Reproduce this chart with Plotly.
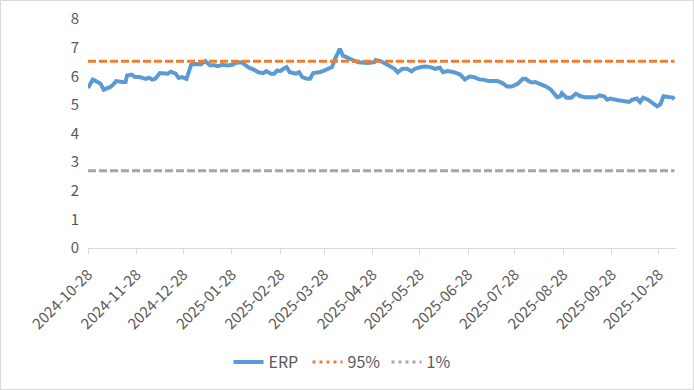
import plotly.graph_objects as go

# ---- data ----
erp_dates = [
    "2024-10-28", "2024-10-31", "2024-11-02", "2024-11-05", "2024-11-07", "2024-11-09",
    "2024-11-11", "2024-11-13", "2024-11-15", "2024-11-19", "2024-11-21", "2024-11-22",
    "2024-11-25", "2024-11-27", "2024-11-30", "2024-12-04", "2024-12-06", "2024-12-08",
    "2024-12-10", "2024-12-13", "2024-12-16", "2024-12-18", "2024-12-20", "2024-12-23",
    "2024-12-25", "2024-12-27", "2024-12-30", "2025-01-02", "2025-01-05", "2025-01-08",
    "2025-01-11", "2025-01-14", "2025-01-17", "2025-01-19", "2025-01-22", "2025-01-25",
    "2025-01-29", "2025-01-30", "2025-02-03", "2025-02-05", "2025-02-08", "2025-02-11",
    "2025-02-14", "2025-02-17", "2025-02-19", "2025-02-22", "2025-02-24", "2025-02-26",
    "2025-02-28", "2025-03-02", "2025-03-04", "2025-03-06", "2025-03-10", "2025-03-12",
    "2025-03-14", "2025-03-17", "2025-03-19", "2025-03-21", "2025-03-25", "2025-03-28",
    "2025-03-31", "2025-04-02", "2025-04-04", "2025-04-07", "2025-04-09", "2025-04-13",
    "2025-04-16", "2025-04-19", "2025-04-22", "2025-04-25", "2025-04-29", "2025-04-30",
    "2025-05-03", "2025-05-05", "2025-05-08", "2025-05-12", "2025-05-14", "2025-05-17",
    "2025-05-20", "2025-05-23", "2025-05-25", "2025-05-29", "2025-06-01", "2025-06-04",
    "2025-06-07", "2025-06-10", "2025-06-12", "2025-06-15", "2025-06-19", "2025-06-23",
    "2025-06-26", "2025-06-29", "2025-07-02", "2025-07-05", "2025-07-08", "2025-07-11",
    "2025-07-15", "2025-07-17", "2025-07-20", "2025-07-23", "2025-07-26", "2025-07-30",
    "2025-08-02", "2025-08-04", "2025-08-06", "2025-08-08", "2025-08-10", "2025-08-14",
    "2025-08-17", "2025-08-20", "2025-08-22", "2025-08-24", "2025-08-26", "2025-08-27",
    "2025-08-30", "2025-09-02", "2025-09-05", "2025-09-08", "2025-09-11", "2025-09-15",
    "2025-09-18", "2025-09-20", "2025-09-23", "2025-09-25", "2025-09-27", "2025-10-02",
    "2025-10-06", "2025-10-09", "2025-10-11", "2025-10-14", "2025-10-16", "2025-10-18",
    "2025-10-21", "2025-10-24", "2025-10-27", "2025-10-29", "2025-10-31", "2025-11-04",
    "2025-11-06", "2025-11-07",
]
erp_values = [
    5.59, 5.88, 5.83, 5.74, 5.53, 5.56,
    5.62, 5.70, 5.83, 5.80, 5.80, 6.03,
    6.06, 5.97, 5.97, 5.91, 5.95, 5.88,
    5.91, 6.11, 6.11, 6.09, 6.16, 6.09,
    5.94, 5.97, 5.91, 6.41, 6.43, 6.41,
    6.53, 6.38, 6.38, 6.35, 6.40, 6.38,
    6.41, 6.46, 6.49, 6.41, 6.30, 6.23,
    6.14, 6.11, 6.18, 6.09, 6.09, 6.20,
    6.18, 6.26, 6.32, 6.14, 6.09, 6.14,
    5.97, 5.91, 5.91, 6.11, 6.14, 6.20,
    6.26, 6.32, 6.61, 6.96, 6.72, 6.61,
    6.55, 6.49, 6.46, 6.46, 6.49, 6.57,
    6.53, 6.46, 6.38, 6.26, 6.14, 6.26,
    6.26, 6.17, 6.26, 6.32, 6.34, 6.32,
    6.26, 6.30, 6.14, 6.18, 6.14, 6.06,
    5.89, 5.99, 5.97, 5.89, 5.88, 5.83,
    5.83, 5.83, 5.76, 5.64, 5.64, 5.74,
    5.91, 5.91, 5.82, 5.78, 5.80, 5.71,
    5.64, 5.53, 5.41, 5.27, 5.30, 5.41,
    5.25, 5.25, 5.39, 5.30, 5.27, 5.25,
    5.27, 5.33, 5.30, 5.18, 5.22, 5.16,
    5.13, 5.10, 5.18, 5.22, 5.10, 5.25,
    5.18, 5.06, 4.95, 5.02, 5.30, 5.27,
    5.25, 5.20,
]
band_dates = ["2024-10-28", "2025-11-07"]
p95_values = [6.52, 6.52]
p01_values = [2.70, 2.70]

tick_dates = [
    "2024-10-28", "2024-11-28", "2024-12-28", "2025-01-28", "2025-02-28", "2025-03-28",
    "2025-04-28", "2025-05-28", "2025-06-28", "2025-07-28", "2025-08-28", "2025-09-28",
    "2025-10-28",
]
y_ticks = [0, 1, 2, 3, 4, 5, 6, 7, 8]

# ---- styling ----
BLUE = "#5B9BD5"
ORANGE = "#ED7D31"
GRAY = "#A5A5A5"
TEXT = "#595959"
FONT = "Noto Sans CJK SC, Noto Sans, sans-serif"

fig = go.Figure()
fig.add_trace(go.Scatter(x=erp_dates, y=erp_values, mode="lines", name="ERP",
                         line=dict(color=BLUE, width=4)))
fig.add_trace(go.Scatter(x=band_dates, y=p95_values, mode="lines", name="95%",
                         showlegend=False, line=dict(color=ORANGE, width=3, dash="8px,3px")))
fig.add_trace(go.Scatter(x=band_dates, y=p01_values, mode="lines", name="1%",
                         showlegend=False, line=dict(color=GRAY, width=3, dash="8px,3px")))
# legend entries (dotted, as in the reference legend)
fig.add_trace(go.Scatter(x=[None], y=[None], mode="lines", name="95%",
                         line=dict(color=ORANGE, width=3, dash="3px,4px")))
fig.add_trace(go.Scatter(x=[None], y=[None], mode="lines", name="1%",
                         line=dict(color=GRAY, width=3, dash="3px,4px")))

L, R, T, B = 88, 18, 19, 142
W, H = 694, 390
pw, ph = W - L - R, H - T - B

fig.update_layout(
    width=W, height=H,
    margin=dict(l=L, r=R, t=T, b=B, autoexpand=False),
    paper_bgcolor="white", plot_bgcolor="white",
    font=dict(family=FONT, size=15, color=TEXT),
    showlegend=True,
    legend=dict(orientation="h", x=0.5, xanchor="center", xref="container",
                y=1 - 362 / H, yanchor="middle", yref="container",
                font=dict(size=16, color=TEXT), itemwidth=30, tracegroupgap=0,
                entrywidth=34, entrywidthmode="pixels"),
    xaxis=dict(type="date", range=["2024-10-28", "2025-11-08"],
               tickvals=tick_dates, ticktext=tick_dates, tickangle=-45,
               ticks="outside", ticklen=5, tickcolor="#D9D9D9",
               showline=True, linecolor="#D9D9D9", linewidth=1,
               ticklabelstandoff=6,
               showgrid=False, zeroline=False, tickfont=dict(size=15, color=TEXT)),
    yaxis=dict(range=[0, 8], tickvals=y_ticks, showgrid=False, zeroline=False,
               showline=False, ticks="", ticklabelstandoff=8,
               tickfont=dict(size=15, color=TEXT)),
    shapes=[dict(type="rect", xref="paper", yref="paper",
                 x0=(0.5 - L) / pw, x1=(W - 0.5 - L) / pw,
                 y0=(ph + T - (H - 0.5)) / ph, y1=(ph + T - 0.5) / ph,
                 line=dict(color="#D9D9D9", width=1), fillcolor="rgba(0,0,0,0)",
                 layer="below")],
)

fig.write_html("out.html", config={"displayModeBar": False},
               post_script="document.body.style.margin='0';document.body.style.padding='0';")
